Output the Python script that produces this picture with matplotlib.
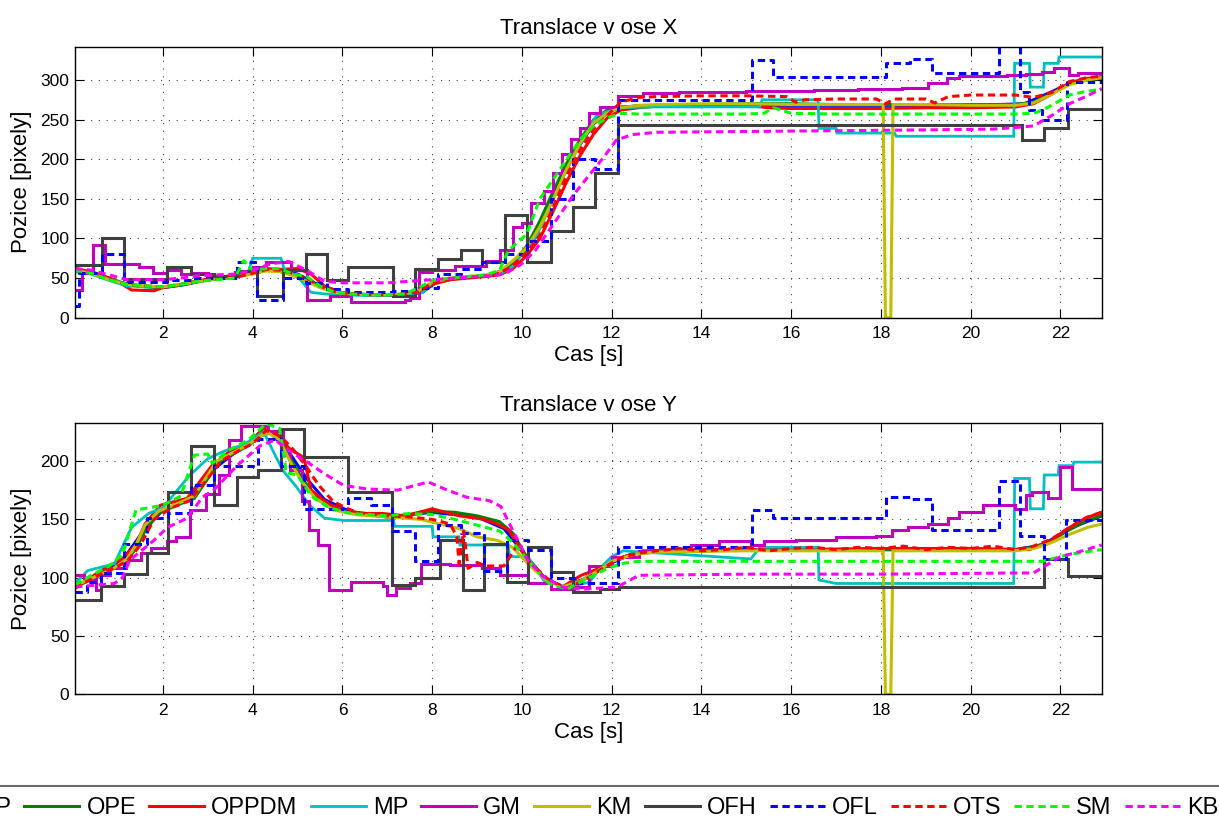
import matplotlib
matplotlib.use('Agg')
import matplotlib.pyplot as plt

plt.rcParams['font.family'] = ['Liberation Sans', 'DejaVu Sans']

# ---------------- series names / styles ----------------
names = ['OP', 'OPE', 'OPPDM', 'MP', 'GM', 'KM', 'OFH', 'OFL', 'OTS', 'SM', 'KB']
colors = ['#0000ff', '#008000', '#ff0000', '#00bfbf', '#bf00bf', '#bfbf00',
          '#404040', '#0000ff', '#ff0000', '#00ff00', '#ff00ff']
dashed = ['OFL', 'OTS', 'SM', 'KB']
stepped = ['GM', 'OFH', 'OFL']

# ---------------- X translation data ----------------
tX_OP = [0.04, 0.5, 1.0, 1.5, 2.0, 2.5, 3.0, 3.5, 4.0, 4.3, 4.7, 5.0, 5.4, 5.8, 6.3, 7.0, 7.5, 7.8, 8.1,
         8.6, 9.2, 9.6, 10.0, 10.4, 10.8, 11.2, 11.6, 12.0, 12.5, 14.0, 17.0, 20.0, 21.2, 21.8, 22.3, 22.92]
vX_OP = [61, 56, 45, 40, 38, 42, 48, 51, 56, 60, 59, 55, 43, 33, 30, 28, 29, 33, 45,
         50, 53, 60, 80, 115, 165, 210, 245, 262, 267, 268, 268, 268, 270, 285, 298, 304]

tX_OPE = [0.04, 0.4, 0.8, 1.2, 1.6, 2.0, 2.4, 2.8, 3.2, 3.6, 4.0, 4.3, 4.6, 4.9, 5.2, 5.5, 5.8, 6.2, 6.6, 7.0,
          7.4, 7.7, 8.0, 8.4, 8.8, 9.2, 9.5, 9.8, 10.1, 10.4, 10.7, 11.0, 11.3, 11.6, 11.9, 12.2, 12.6, 13.0,
          14.0, 15.0, 16.0, 17.0, 18.0, 19.0, 20.0, 21.0, 21.4, 21.8, 22.2, 22.6, 22.92]
vX_OPE = [60, 57, 50, 42, 39, 38, 41, 46, 49, 51, 56, 60, 59, 55, 48, 40, 33, 30, 29, 28,
          29, 32, 44, 49, 51, 53, 56, 68, 90, 122, 160, 195, 225, 250, 262, 266, 267, 268,
          269, 270, 270, 269, 269, 269, 269, 269, 272, 283, 295, 300, 302]

tX_OPPDM = [0.04, 0.4, 0.8, 1.1, 1.3, 1.8, 2.0, 2.4, 2.8, 3.2, 3.6, 4.0, 4.3, 4.6, 5.0, 5.3, 5.6, 6.0, 6.5, 7.0,
            7.4, 7.7, 8.0, 8.4, 8.8, 9.2, 9.5, 9.8, 10.1, 10.4, 10.7, 11.0, 11.3, 11.6, 11.9, 12.2, 12.6, 13.0,
            14.0, 15.0, 15.5, 16.0, 17.0, 18.0, 19.0, 20.0, 21.0, 21.4, 21.8, 22.2, 22.6, 22.92]
vX_OPPDM = [62, 58, 50, 42, 35, 34, 38, 42, 47, 50, 54, 58, 62, 61, 62, 55, 40, 31, 29, 28,
            28, 31, 42, 48, 50, 52, 54, 62, 78, 100, 135, 172, 205, 232, 252, 262, 265, 267,
            268, 268, 265, 264, 264, 264, 265, 265, 266, 270, 282, 296, 302, 304]

tX_MP = [0.04, 0.4, 0.8, 1.2, 1.6, 2.0, 2.4, 2.8, 3.2, 3.6, 3.9, 4.0, 4.63, 4.7, 5.0, 5.3, 5.6, 6.0, 6.5, 7.0,
         7.5, 7.8, 8.0, 8.5, 9.0, 9.5, 9.8, 10.0, 10.3, 10.7, 11.1, 11.4, 11.66, 11.9, 12.2, 13.0, 14.0,
         15.3, 15.35, 16.6, 16.62, 17.0, 17.02, 18.3, 18.34, 20.96, 20.98, 21.31, 21.33, 21.62, 21.64,
         21.95, 21.97, 22.92]
vX_MP = [58, 55, 47, 40, 39, 39, 42, 46, 49, 52, 58, 75, 75, 62, 52, 32, 30, 29, 28, 28,
         29, 32, 45, 50, 52, 55, 65, 80, 100, 150, 200, 230, 255, 260, 265, 266, 266,
         266, 275, 275, 239, 239, 233, 233, 229, 229, 321, 321, 291, 291, 321,
         321, 329, 329]

tX_GM = [0.04, 0.19, 0.45, 0.7, 1.47, 1.77, 2.1, 2.4, 2.7, 3.0, 3.6, 4.0, 4.3, 4.85, 5.22, 5.73, 6.2, 7.4,
         7.5, 7.7, 8.0, 8.5, 9.2, 9.5, 9.8, 10.0, 10.2, 10.5, 10.7, 10.9, 11.1, 11.3, 11.5, 11.74, 12.13,
         12.7, 13.5, 15.0, 16.5, 17.5, 18.47, 19.04, 19.48, 19.74, 20.8, 21.24, 21.6, 21.85, 22.2, 22.4, 22.92]
vX_GM = [35, 57, 92, 68, 64, 56, 60, 55, 57, 52, 58, 64, 70, 60, 22, 28, 20, 22,
         25, 58, 60, 65, 72, 86, 115, 120, 145, 160, 182, 207, 225, 240, 258, 266, 280,
         283, 285, 286, 287, 288, 290, 296, 302, 305, 306, 308, 310, 315, 306, 309, 309]

tX_KM = [0.04, 0.4, 0.8, 1.2, 1.6, 2.0, 2.4, 2.8, 3.2, 3.6, 4.0, 4.3, 4.6, 4.9, 5.2, 5.5, 5.8, 6.2, 6.6, 7.0,
         7.4, 7.7, 8.0, 8.4, 8.8, 9.2, 9.5, 9.8, 10.1, 10.4, 10.7, 11.0, 11.3, 11.6, 11.9, 12.2, 12.6, 13.0,
         14.0, 15.0, 16.0, 17.0, 18.05, 18.1, 18.22, 18.27, 19.0, 20.0, 21.0, 21.4, 21.8, 22.2, 22.6, 22.92]
vX_KM = [60, 56, 48, 42, 40, 39, 42, 46, 49, 51, 55, 59, 58, 53, 46, 38, 32, 30, 29, 29,
         30, 34, 45, 50, 52, 54, 58, 72, 88, 115, 150, 188, 220, 246, 258, 265, 268, 269,
         270, 270, 269, 269, 269, 0, 0, 269, 269, 268, 268, 271, 282, 294, 300, 303]

tX_OFH = [0.04, 0.64, 1.13, 2.1, 2.62, 3.13, 3.65, 4.1, 4.67, 5.18, 5.65, 6.12, 7.12, 7.61, 8.12, 8.64, 9.12,
          9.63, 10.12, 10.64, 11.13, 11.62, 12.13, 21.14, 21.64, 22.17, 22.92]
vX_OFH = [67, 100, 49, 64, 55, 52, 59, 28, 60, 80, 47, 64, 28, 62, 74, 85, 70,
          130, 70, 110, 140, 182, 243, 224, 239, 263, 263]

tX_OFL = [0.04, 0.13, 0.64, 1.13, 2.1, 2.62, 3.65, 4.1, 4.67, 5.18, 5.65, 6.12, 7.12, 7.61, 8.12, 8.64, 9.12,
          9.63, 10.12, 10.64, 11.13, 11.62, 12.13, 15.12, 15.6, 18.12, 18.65, 19.13, 20.63, 21.1, 21.3, 21.6,
          22.15, 22.92]
vX_OFL = [15, 57, 80, 45, 48, 50, 70, 22, 50, 44, 36, 33, 34, 37, 55, 62, 70,
          80, 97, 150, 200, 188, 275, 325, 304, 321, 327, 309, 370, 285, 262, 249,
          298, 298]

tX_OTS = [0.04, 0.4, 0.8, 1.2, 1.6, 2.0, 2.4, 2.8, 3.2, 3.6, 4.0, 4.3, 4.6, 4.9, 5.2, 5.5, 5.8, 6.2, 6.6, 7.0,
          7.4, 7.7, 8.0, 8.4, 8.8, 9.2, 9.5, 9.8, 10.1, 10.4, 10.7, 11.0, 11.3, 11.6, 11.9, 12.2, 12.6, 13.0,
          14.0, 15.0, 15.9, 16.1, 16.3, 17.0, 17.9, 18.1, 18.3, 19.0, 19.2, 19.5, 20.0, 21.0, 21.4, 21.8,
          22.2, 22.6, 22.92]
vX_OTS = [62, 57, 49, 42, 40, 39, 42, 46, 49, 51, 56, 61, 60, 56, 50, 40, 33, 30, 29, 29,
          30, 33, 44, 49, 51, 53, 56, 66, 82, 104, 140, 180, 212, 238, 255, 272, 278, 279,
          280, 280, 279, 272, 275, 276, 276, 270, 276, 276, 271, 279, 281, 281, 278, 284,
          298, 303, 305]

tX_SM = [0.04, 0.4, 0.8, 1.2, 1.6, 2.0, 2.4, 2.8, 3.2, 3.6, 3.8, 4.0, 4.3, 4.6, 4.9, 5.2, 5.5, 5.8, 6.2, 6.6,
         7.0, 7.4, 7.7, 8.0, 8.4, 8.8, 9.2, 9.5, 9.7, 10.1, 10.4, 10.7, 11.0, 11.3, 11.6, 11.9, 12.2, 12.6,
         13.0, 14.0, 15.0, 15.4, 15.6, 16.0, 17.0, 18.0, 19.0, 20.0, 21.0, 21.4, 21.6, 21.8, 22.2, 22.6, 22.92]
vX_SM = [60, 56, 48, 42, 40, 39, 42, 46, 48, 50, 72, 60, 62, 62, 55, 52, 40, 33, 30, 29,
         29, 30, 38, 47, 50, 52, 54, 60, 85, 105, 150, 175, 200, 225, 242, 252, 258, 257,
         257, 257, 257, 258, 265, 258, 257, 257, 257, 257, 257, 258, 262, 268, 281, 286, 288]

tX_KB = [0.04, 0.4, 0.8, 1.2, 1.6, 2.0, 2.4, 2.8, 3.2, 3.6, 4.0, 4.4, 4.8, 5.2, 5.6, 6.0, 6.5, 7.0, 7.5, 8.0,
         8.5, 9.0, 9.4, 9.7, 10.0, 10.3, 10.7, 11.15, 11.5, 11.83, 12.1, 12.45, 13.0, 15.0, 17.0, 19.0,
         20.5, 21.0, 21.4, 21.86, 22.2, 22.6, 22.92]
vX_KB = [62, 60, 54, 48, 48, 48, 50, 53, 54, 55, 60, 68, 71, 60, 46, 44, 44, 44, 46, 48,
         50, 52, 53, 58, 68, 85, 118, 155, 180, 203, 224, 231, 234, 235, 236, 237,
         238, 240, 242, 257, 270, 280, 289]

# ---------------- Y translation data ----------------
tY_OP = [0.04, 0.6, 1.1, 1.6, 2.0, 2.6, 3.1, 3.6, 4.2, 4.4, 4.8, 5.2, 5.6, 6.2, 7.0, 8.0, 9.0, 9.6, 10.1,
         10.5, 10.9, 11.4, 11.9, 12.5, 15.0, 18.0, 21.0, 21.6, 22.2, 22.92]
vY_OP = [92, 104, 115, 142, 158, 167, 192, 207, 222, 224, 208, 185, 167, 156, 152, 156, 152, 142, 118,
         100, 92, 99, 111, 121, 124, 124, 124, 128, 142, 153]

tY_OPE = [0.04, 0.5, 0.9, 1.2, 1.4, 1.6, 1.9, 2.3, 2.7, 3.0, 3.2, 3.6, 3.9, 4.2, 4.35, 4.6, 4.8, 5.1, 5.4, 5.8,
          6.3, 7.0, 7.5, 8.0, 8.5, 9.0, 9.5, 9.8, 10.1, 10.5, 10.9, 11.3, 11.7, 12.0, 12.5, 13.0, 15.0,
          17.0, 19.0, 21.0, 21.4, 21.8, 22.2, 22.6, 22.92]
vY_OPE = [92, 100, 108, 115, 125, 140, 155, 162, 168, 185, 198, 207, 213, 222, 225, 220, 205, 185, 170, 160,
          155, 152, 154, 157, 156, 153, 148, 138, 118, 100, 92, 97, 106, 114, 121, 123, 124,
          124, 124, 124, 126, 132, 141, 149, 153]

tY_OPPDM = [0.04, 0.58, 1.09, 1.4, 1.6, 1.94, 2.54, 3.09, 3.48, 3.82, 4.24, 4.5, 4.84, 5.14, 5.3, 5.7, 6.03,
            6.46, 6.89, 7.4, 8.0, 8.6, 9.15, 9.45, 9.7, 10.13, 10.47, 10.9, 11.32, 11.73, 12.2, 12.7, 14.0,
            16.0, 18.0, 20.0, 21.3, 21.7, 22.12, 22.56, 22.92]
vY_OPPDM = [91, 105, 116, 128, 146, 162, 168, 196, 208, 212, 228, 223, 210, 203, 175, 163, 158,
            155, 155, 153, 159, 153, 150, 146, 141, 115, 101, 92, 102, 108, 117, 123, 124,
            124, 125, 125, 124, 129, 141, 151, 156]

tY_MP = [0.04, 0.32, 0.92, 1.3, 1.68, 2.0, 2.6, 3.0, 3.4, 3.8, 4.24, 4.67, 4.97, 5.27, 5.6, 6.03, 7.14, 7.16,
         8.0, 8.02, 8.6, 8.62, 9.7, 9.72, 10.13, 10.5, 11.0, 11.5, 11.74, 12.0, 12.26, 13.9, 15.1, 15.3,
         16.6, 16.62, 17.0, 20.96, 20.98, 21.31, 21.33, 21.62, 21.64, 21.95, 21.97, 22.28, 22.3, 22.92]
vY_MP = [95, 106, 112, 143, 155, 160, 188, 202, 209, 214, 225, 192, 178, 162, 151, 149, 149, 144,
         144, 135, 135, 128, 128, 118, 118, 97, 92, 96, 108, 118, 123, 119, 116, 126,
         126, 98, 95, 95, 185, 185, 159, 159, 188, 188, 196, 196, 199, 199]

tY_GM = [0.04, 0.23, 0.5, 0.62, 0.83, 1.17, 1.5, 1.73, 2.1, 2.3, 2.6, 2.96, 3.26, 3.48, 3.73, 4.33, 4.67,
         4.84, 5.1, 5.25, 5.45, 5.7, 6.2, 6.9, 7.0, 7.2, 7.5, 7.74, 8.4, 9.1, 9.5, 10.13, 10.64, 11.15,
         11.5, 12.0, 12.6, 13.76, 14.4, 15.1, 15.4, 16.1, 17.0, 17.9, 18.25, 18.6, 19.04, 19.5, 19.75,
         20.27, 20.98, 21.24, 21.37, 21.73, 22.0, 22.25, 22.92]
vY_GM = [102, 99, 89, 102, 108, 115, 121, 125, 131, 135, 158, 172, 188, 218, 230, 226, 205,
         192, 166, 141, 128, 89, 96, 93, 85, 91, 95, 112, 111, 108, 102, 95, 90, 92,
         110, 118, 123, 128, 131, 128, 131, 132, 135, 136, 141, 143, 146, 151, 156,
         162, 159, 171, 173, 168, 195, 176, 176]

tY_KM = [0.04, 0.5, 0.9, 1.2, 1.4, 1.6, 1.9, 2.3, 2.7, 3.0, 3.2, 3.6, 3.9, 4.2, 4.35, 4.6, 4.8, 5.1, 5.4, 5.8,
         6.3, 7.0, 7.74, 8.6, 9.0, 9.45, 9.79, 10.13, 10.5, 10.9, 11.3, 11.7, 12.0, 12.5, 13.0, 15.0, 17.0,
         18.05, 18.1, 18.22, 18.27, 19.0, 21.0, 21.4, 21.8, 22.2, 22.6, 22.92]
vY_KM = [93, 101, 108, 116, 128, 145, 157, 163, 170, 188, 200, 208, 214, 222, 224, 218, 202, 182, 168, 158,
         154, 152, 150, 142, 135, 132, 126, 112, 99, 92, 97, 106, 114, 120, 122, 123, 123,
         123, 0, 0, 123, 123, 123, 125, 130, 137, 143, 146]

tY_OFH = [0.04, 0.62, 1.13, 1.64, 2.11, 2.62, 3.13, 3.65, 4.12, 4.63, 5.14, 6.12, 7.1, 7.61, 8.17, 8.68,
          9.15, 9.66, 10.13, 10.64, 11.13, 11.74, 12.17, 21.64, 22.17, 22.92]
vY_OFH = [81, 93, 103, 121, 173, 213, 162, 186, 192, 227, 203, 173, 94, 100, 132, 89,
          129, 96, 126, 105, 88, 90, 92, 116, 101, 101]

tY_OFL = [0.04, 0.3, 0.62, 1.13, 1.64, 2.11, 2.62, 3.13, 4.12, 4.63, 5.14, 6.12, 6.63, 7.1, 7.61, 8.12,
          8.64, 9.15, 9.66, 10.13, 10.64, 11.15, 12.13, 15.12, 15.6, 18.12, 18.65, 19.13, 20.63, 21.1,
          21.64, 22.12, 22.92]
vY_OFL = [88, 96, 104, 129, 151, 155, 179, 196, 219, 196, 159, 168, 162, 140, 114, 145,
          138, 106, 132, 124, 100, 95, 126, 158, 151, 169, 167, 141, 183, 136,
          116, 149, 149]

tY_OTS = [0.04, 0.5, 0.9, 1.2, 1.5, 1.8, 2.2, 2.6, 3.0, 3.3, 3.7, 4.0, 4.3, 4.6, 4.9, 5.2, 5.35, 5.5, 5.8, 6.3,
          7.0, 7.5, 8.0, 8.4, 8.55, 8.6, 8.7, 8.8, 9.0, 9.2, 9.6, 9.9, 10.2, 10.6, 11.0, 11.4, 11.8, 12.2,
          12.6, 13.0, 13.5, 14.0, 14.5, 15.0, 15.5, 16.0, 16.5, 17.0, 17.5, 18.0, 18.5, 19.0, 19.5, 20.0,
          20.5, 21.0, 21.4, 21.8, 22.2, 22.6, 22.92]
vY_OTS = [91, 101, 108, 114, 128, 150, 160, 166, 185, 200, 209, 215, 226, 222, 210, 195, 186, 178, 165, 156,
          153, 152, 150, 146, 135, 112, 140, 108, 113, 110, 110, 128, 112, 98, 91, 98, 108, 117,
          121, 123, 125, 123, 124, 126, 123, 125, 126, 124, 126, 125, 127, 124, 126, 125,
          127, 124, 127, 133, 143, 152, 156]

tY_SM = [0.04, 0.4, 0.8, 1.1, 1.4, 1.7, 2.0, 2.4, 2.7, 3.0, 3.1, 3.5, 3.9, 4.3, 4.6, 4.75, 5.0, 5.3, 5.7, 6.2,
         7.0, 7.5, 8.0, 8.5, 9.0, 9.5, 9.8, 10.2, 10.6, 11.0, 11.4, 11.8, 12.2, 12.6, 15.0, 18.0, 21.6,
         22.2, 22.92]
vY_SM = [94, 102, 110, 120, 158, 160, 162, 170, 205, 206, 198, 210, 218, 232, 228, 190, 188, 170, 160, 155,
         153, 155, 154, 150, 145, 140, 130, 112, 95, 90, 98, 106, 112, 114, 114, 114, 114,
         120, 124]

tY_KB = [0.04, 0.92, 1.1, 1.26, 1.77, 2.1, 2.54, 2.88, 3.13, 3.65, 4.16, 4.5, 4.84, 5.18, 5.6, 6.03, 6.55,
         7.23, 7.91, 8.34, 8.76, 9.27, 9.53, 9.79, 10.13, 10.47, 10.9, 11.32, 12.13, 12.6, 15.0, 18.0,
         21.0, 21.4, 21.7, 22.0, 22.4, 22.92]
vY_KB = [92, 95, 100, 115, 131, 143, 151, 169, 175, 196, 213, 218, 208, 200, 189, 179, 176,
         175, 182, 175, 169, 166, 161, 141, 115, 101, 92, 90, 92, 102, 103, 103,
         104, 104, 111, 118, 122, 128]

seriesX = {'OP': (tX_OP, vX_OP), 'OPE': (tX_OPE, vX_OPE), 'OPPDM': (tX_OPPDM, vX_OPPDM),
           'MP': (tX_MP, vX_MP), 'GM': (tX_GM, vX_GM), 'KM': (tX_KM, vX_KM),
           'OFH': (tX_OFH, vX_OFH), 'OFL': (tX_OFL, vX_OFL), 'OTS': (tX_OTS, vX_OTS),
           'SM': (tX_SM, vX_SM), 'KB': (tX_KB, vX_KB)}
seriesY = {'OP': (tY_OP, vY_OP), 'OPE': (tY_OPE, vY_OPE), 'OPPDM': (tY_OPPDM, vY_OPPDM),
           'MP': (tY_MP, vY_MP), 'GM': (tY_GM, vY_GM), 'KM': (tY_KM, vY_KM),
           'OFH': (tY_OFH, vY_OFH), 'OFL': (tY_OFL, vY_OFL), 'OTS': (tY_OTS, vY_OTS),
           'SM': (tY_SM, vY_SM), 'KB': (tY_KB, vY_KB)}

xticks = [2, 4, 6, 8, 10, 12, 14, 16, 18, 20, 22]
yticks_top = [0, 50, 100, 150, 200, 250, 300]
yticks_bot = [0, 50, 100, 150, 200]

# ---------------- figure ----------------
W, H = 1219, 823
fig = plt.figure(figsize=(W / 100, H / 100), dpi=100)
left, right = 75, 1101.7
ax1 = fig.add_axes([left / W, (H - 317.7) / H, (right - left) / W, 271 / H])
ax2 = fig.add_axes([left / W, (H - 694.3) / H, (right - left) / W, 271 / H])


def draw(ax, data, ylim, yticks, title):
    handles = []
    for name, col in zip(names, colors):
        t, v = data[name]
        kw = dict(color=col, lw=2.2, solid_joinstyle='miter')
        if name in dashed:
            kw['linestyle'] = (0, (2.4, 1.5))
        if name in stepped:
            kw['drawstyle'] = 'steps-post'
        if name == 'MP':
            kw['lw'] = 2.0
        ln, = ax.plot(t, v, label=name, **kw)
        handles.append(ln)
    ax.set_xlim(0.04, 22.92)
    ax.set_ylim(*ylim)
    ax.set_xticks(xticks)
    ax.set_yticks(yticks)
    ax.set_axisbelow(True)
    ax.grid(True, linestyle=(0, (1, 6)), color='#444444', lw=0.8)
    ax.tick_params(axis='both', direction='in', length=6.5, width=0.8,
                   top=True, right=True, labelsize=12.5, colors='black')
    ax.tick_params(axis='x', pad=6)
    ax.tick_params(axis='y', pad=4)
    for s in ax.spines.values():
        s.set_linewidth(1.0)
        s.set_color('black')
    ax.set_title(title, fontsize=16, pad=9)
    ax.set_xlabel('Cas [s]', fontsize=16, labelpad=3)
    ax.set_ylabel('Pozice [pixely]', fontsize=16, labelpad=6)
    return handles


h = draw(ax1, seriesX, (0, 342), yticks_top, 'Translace v ose X')
draw(ax2, seriesY, (0, 232.3), yticks_bot, 'Translace v ose Y')

leg = fig.legend(h, names, loc='center', bbox_to_anchor=(566.7 / W, (H - 808) / H),
                 ncol=11, fontsize=17, handlelength=2.33, handletextpad=0.3,
                 columnspacing=0.55, frameon=True, fancybox=False, borderpad=0.45)
leg.get_frame().set_edgecolor('#444444')
leg.get_frame().set_linewidth(1.5)
leg.get_frame().set_facecolor('white')

fig.savefig('out.png', dpi=100)
